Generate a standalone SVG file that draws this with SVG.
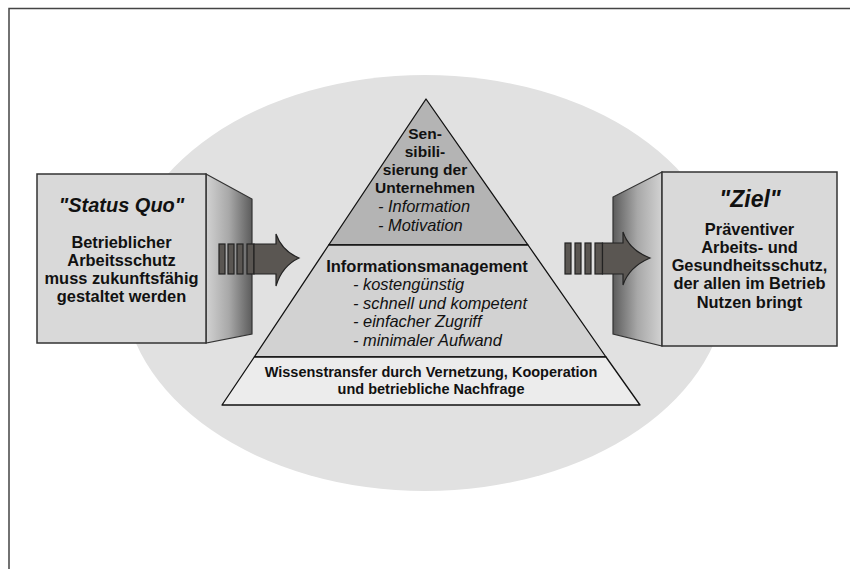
<svg xmlns="http://www.w3.org/2000/svg" width="850" height="569" viewBox="0 0 850 569">
<defs>
<linearGradient id="sideL" x1="0" y1="0" x2="1" y2="0">
<stop offset="0" stop-color="#d2d2d2"/>
<stop offset="0.5" stop-color="#a8a8a8"/>
<stop offset="1" stop-color="#5c5c5c"/>
</linearGradient>
<linearGradient id="sideR" x1="1" y1="0" x2="0" y2="0">
<stop offset="0" stop-color="#d2d2d2"/>
<stop offset="0.5" stop-color="#a8a8a8"/>
<stop offset="1" stop-color="#5c5c5c"/>
</linearGradient>
<style>
.face{fill:#d9d9d9;stroke:#333;stroke-width:1.5}
.side{stroke:#333;stroke-width:1.2}
.tier{stroke:#111;stroke-width:1.3;stroke-linejoin:round}
.arrow{fill:#5a5652;stroke:#222;stroke-width:1.2}
text{font-family:"Liberation Sans",Arial,sans-serif;fill:#111}
.title{font-weight:bold;font-style:italic;text-anchor:middle}
.body{font-weight:bold;font-size:16.4px;text-anchor:middle}
.head{font-weight:bold;text-anchor:middle}
.item{font-style:italic;font-size:16.4px}
</style>
</defs>
<rect width="850" height="569" fill="#fff"/>
<path d="M9 569 V8.5 H850" fill="none" stroke="#444" stroke-width="1.5"/>
<ellipse id="background" cx="425" cy="283" rx="302" ry="208" fill="#e1e1e1"/>

<g id="pyramid">
<g id="tier-top">
<path class="tier" d="M426 99 L328.7 245 L528 245 Z" fill="#b4b4b4"/>
<text class="head" font-size="15.5" x="425" y="139">Sen-</text>
<text class="head" font-size="15.5" x="425" y="157">sibili-</text>
<text class="head" font-size="15.5" x="425" y="175">sierung der</text>
<text class="head" font-size="15.5" x="425" y="193">Unternehmen</text>
<text class="item" x="378" y="212">- Information</text>
<text class="item" x="378" y="231">- Motivation</text>
</g>
<g id="tier-middle">
<path class="tier" d="M328.7 245 L528 245 L606 357 L254.3 357 Z" fill="#d2d2d2"/>
<text class="head" font-size="16.5" x="427" y="272">Informationsmanagement</text>
<text class="item" x="353" y="290">- kostengünstig</text>
<text class="item" x="353" y="309">- schnell und kompetent</text>
<text class="item" x="353" y="327">- einfacher Zugriff</text>
<text class="item" x="353" y="346">- minimaler Aufwand</text>
</g>
<g id="tier-bottom">
<path class="tier" d="M254.3 357 L606 357 L640 405 L222 405 Z" fill="#ececec"/>
<text class="head" font-size="14.5" x="431" y="377">Wissenstransfer durch Vernetzung, Kooperation</text>
<text class="head" font-size="14.5" x="431" y="394">und betriebliche Nachfrage</text>
</g>
</g>

<g id="box-status-quo">
<path class="side" d="M206 174 L252 199 L252 334 L206 343 Z" fill="url(#sideL)"/>
<rect class="face" x="37" y="174" width="169" height="169"/>
<text class="title" font-size="20" x="121.5" y="212">"Status Quo"</text>
<text class="body" x="121.5" y="248">Betrieblicher</text>
<text class="body" x="121.5" y="266">Arbeitsschutz</text>
<text class="body" x="121.5" y="284">muss zukunftsfähig</text>
<text class="body" x="121.5" y="302">gestaltet werden</text>
</g>

<g id="box-ziel">
<path class="side" d="M662 172 L613 197 L613 334 L662 346 Z" fill="url(#sideR)"/>
<rect class="face" x="662" y="172" width="175" height="174"/>
<text class="title" font-size="23" x="750" y="207">"Ziel"</text>
<text class="body" x="749.5" y="235">Präventiver</text>
<text class="body" x="749.5" y="253">Arbeits- und</text>
<text class="body" x="749.5" y="271">Gesundheitsschutz,</text>
<text class="body" x="749.5" y="289">der allen im Betrieb</text>
<text class="body" x="749.5" y="308">Nutzen bringt</text>
</g>

<g id="connectors">
<g id="arrow-left">
<rect class="arrow" x="219" y="244" width="6" height="30"/>
<rect class="arrow" x="228" y="244" width="6" height="30"/>
<rect class="arrow" x="237" y="244" width="6" height="30"/>
<rect class="arrow" x="247" y="244" width="7" height="30"/>
<path class="arrow" d="M254 244 H276 V234 Q282 251 299 258 Q282 266 276 286 V274 H254 Z"/>
</g>
<g id="arrow-right">
<rect class="arrow" x="565" y="243" width="6" height="31"/>
<rect class="arrow" x="575" y="243" width="6" height="31"/>
<rect class="arrow" x="585" y="243" width="6" height="31"/>
<rect class="arrow" x="595" y="243" width="7.5" height="31"/>
<path class="arrow" d="M602.5 243 H623 V232 Q629 250 650 258 Q629 267 623 285 V274 H602.5 Z"/>
</g>
</g>
</svg>
